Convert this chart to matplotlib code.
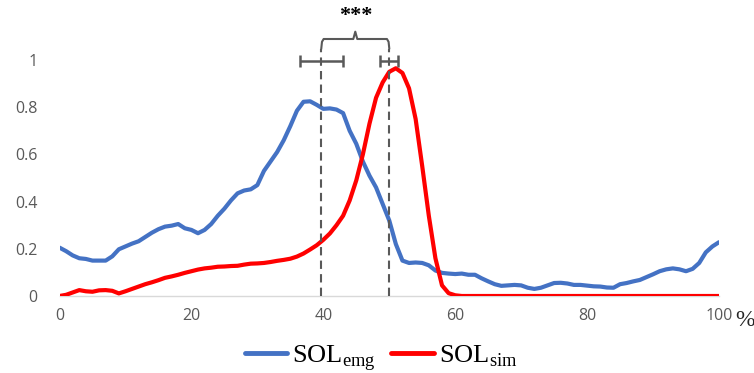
import numpy as np
import matplotlib
matplotlib.use("Agg")
import matplotlib.pyplot as plt

# gait cycle in percent, 1% steps
cycle = np.arange(0, 101)

sol_emg = [
    0.205, 0.19, 0.172, 0.16, 0.157, 0.15, 0.15, 0.15, 0.168, 0.198,
    0.21, 0.222, 0.232, 0.25, 0.268, 0.283, 0.294, 0.298, 0.305, 0.287,
    0.28, 0.266, 0.28, 0.305, 0.34, 0.37, 0.405, 0.435, 0.447, 0.452,
    0.47, 0.53, 0.57, 0.61, 0.66, 0.72, 0.785, 0.823, 0.825, 0.81,
    0.793, 0.795, 0.79, 0.775, 0.70, 0.645, 0.57, 0.51, 0.46, 0.39,
    0.32, 0.22, 0.15, 0.14, 0.142, 0.14, 0.13, 0.108, 0.098, 0.095,
    0.093, 0.095, 0.09, 0.09, 0.075, 0.062, 0.05, 0.043, 0.045, 0.047,
    0.045, 0.035, 0.03, 0.035, 0.045, 0.055, 0.056, 0.053, 0.047, 0.047,
    0.044, 0.041, 0.04, 0.036, 0.035, 0.05, 0.055, 0.062, 0.068, 0.08,
    0.092, 0.105, 0.113, 0.117, 0.113, 0.105, 0.115, 0.14, 0.185, 0.21,
    0.228,
]

sol_sim = [
    0.0, 0.005, 0.015, 0.025, 0.02, 0.018, 0.024, 0.025, 0.022, 0.011,
    0.02, 0.03, 0.04, 0.05, 0.058, 0.067, 0.077, 0.083, 0.09, 0.098,
    0.105, 0.112, 0.117, 0.12, 0.124, 0.125, 0.127, 0.128, 0.133, 0.137,
    0.138, 0.14, 0.144, 0.149, 0.153, 0.158, 0.167, 0.18, 0.197, 0.215,
    0.238, 0.265, 0.3, 0.34, 0.405, 0.49, 0.6, 0.73, 0.84, 0.905,
    0.95, 0.965, 0.945, 0.88, 0.75, 0.55, 0.34, 0.16, 0.045, 0.012,
    0.003,
] + [0.0] * 40

# peak timing (mean and spread, % of cycle)
peak_mean = [39.7, 50.0]
peak_sd = [3.3, 1.4]
peak_bar_y = 0.996

x_ticks = [0, 20, 40, 60, 80, 100]
y_ticks = [0, 0.2, 0.4, 0.6, 0.8, 1]
y_tick_labels = ["0", "0.2", "0.4", "0.6", "0.8", "1"]

plt.rcParams["font.family"] = ["Open Sans", "DejaVu Sans"]
plt.rcParams["mathtext.fontset"] = "custom"
plt.rcParams["mathtext.rm"] = "Liberation Serif"

W, H = 754, 373
fig = plt.figure(figsize=(W / 100, H / 100), dpi=100)
ax = fig.add_axes([59.5 / W, 77 / H, (719 - 59.5) / W, 296 / H])

gray = "#595959"
ax.plot(cycle, sol_emg, color="#4472C4", lw=3.0, label=r"SOL$_\mathrm{emg}$",
        solid_capstyle="round", solid_joinstyle="round")
ax.plot(cycle, sol_sim, color="#FF0000", lw=3.0, label=r"SOL$_\mathrm{sim}$",
        solid_capstyle="round", solid_joinstyle="round")

# dashed markers at mean peak times
for m in peak_mean:
    ax.plot([m, m], [0, 1.045], color=gray, lw=1.5, ls=(0, (4, 2.5)))

# error bars for peak timing
ax.errorbar(peak_mean, [peak_bar_y] * 2, xerr=peak_sd, fmt="none",
            ecolor=gray, elinewidth=1.8, capsize=4, capthick=1.8)

# brace linking both peaks
left, right = peak_mean
mid = (left + right) / 2
yb, yl, yt = 1.089, 1.05, 1.12
bx = [left, left + 0.1, left + 0.35, mid - 0.3, mid, mid + 0.3, right - 0.35, right - 0.1, right]
by = [yl, yb - 0.012, yb, yb, yt, yb, yb, yb - 0.012, yl]
ax.plot(bx, by, color=gray, lw=1.5)
ax.text(mid, 1.185, "***", ha="center", va="center", fontsize=16, fontweight="bold",
        family="Liberation Serif", color="black")

ax.set_xlim(0, 100)
ax.set_ylim(0, 296 / 236)
ax.set_xticks(x_ticks)
ax.set_yticks(y_ticks)
ax.set_yticklabels(y_tick_labels)
ax.tick_params(axis="both", length=0, labelsize=11.5, labelcolor=gray)
ax.tick_params(axis="x", pad=9)
ax.tick_params(axis="y", pad=16)
for s in ["top", "right", "left"]:
    ax.spines[s].set_visible(False)
ax.spines["bottom"].set_color("#d9d9d9")
ax.spines["bottom"].set_linewidth(1.0)
ax.spines["bottom"].set_zorder(0)

ax.text(103.9, -0.102, "%", ha="center", va="center", fontsize=17,
        family="Liberation Serif", color="#262626", clip_on=False)

leg = fig.legend(loc="center", bbox_to_anchor=(381 / W, 1 - 358 / H), ncol=2,
                 frameon=False, prop={"family": "Liberation Serif", "size": 19},
                 handlelength=1.6, handletextpad=0.2, columnspacing=0.6,
                 borderpad=0)
for line in leg.get_lines():
    line.set_linewidth(3.5)

fig.savefig("out.png", dpi=100)
